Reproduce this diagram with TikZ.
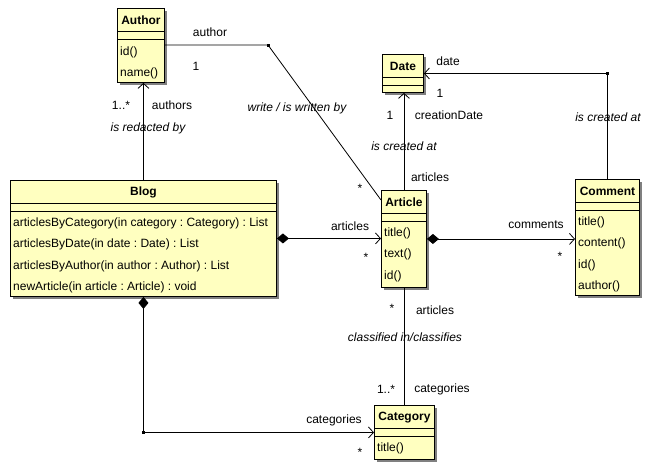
\documentclass[tikz,border=0pt]{standalone}
\usepackage{fontspec}
\setmainfont{Liberation Sans}
\usetikzlibrary{arrows.meta, calc, shadows, positioning}
\definecolor{classfill}{RGB}{255,255,192}
\tikzstyle{umlclass} = [rectangle, draw=black, line width=0.9pt, fill=classfill, inner sep=0pt, anchor=north west, drop shadow={shadow xshift=3pt, shadow yshift=-3pt, fill=black!50, opacity=1}]
\tikzstyle{classname} = [font=\fontsize{12}{14}\selectfont\bfseries, inner sep=0pt]
\tikzstyle{method} = [font=\fontsize{12}{14}\selectfont, anchor=west, inner sep=0pt]
\tikzstyle{role} = [font=\fontsize{12}{14}\selectfont, inner sep=0pt]
\tikzstyle{assocname} = [font=\fontsize{12}{14}\selectfont\itshape, inner sep=0pt]
\tikzstyle{assoc} = [line width=0.8pt]
\tikzstyle{nav} = [assoc, -{Straight Barb[length=5pt,width=11pt]}]
\tikzstyle{comp} = [assoc, {Diamond[length=12pt,width=10pt]}-{Straight Barb[length=5pt,width=11pt]}]
\tikzstyle{bendpoint} = [rectangle, fill=black, inner sep=0pt, minimum size=3pt]

% class box: name, x, y, width, height, title
\newcommand{\umlclass}[6]{%
  \node (#1) [umlclass, minimum width=#4pt, minimum height=#5pt] at (#2,#3) {};
  \node (#1-name) [classname] at ([yshift=-12.5pt]#1.north) {#6};
  \draw[line width=0.9pt] ([yshift=-23pt]#1.north west) -- ([yshift=-23pt]#1.north east);
  \draw[line width=0.9pt] ([yshift=-31pt]#1.north west) -- ([yshift=-31pt]#1.north east);
}

\begin{document}
\frenchspacing
\begin{tikzpicture}[x=1pt, y=-1pt]
\useasboundingbox (0,0) rectangle (655,475);

% classes
\umlclass{author}{117}{8}{47}{74}{Author}
\umlclass{blog}{10}{180}{266}{116}{Blog}
\umlclass{date}{382}{54}{41}{38}{Date}
\umlclass{article}{381}{190}{45}{97}{Article}
\umlclass{comment}{575}{179}{64}{116}{Comment}
\umlclass{category}{374}{405}{60}{54}{Category}

\foreach \m [count=\i] in {id(), name()}
  \node (author-m\i) [method] at ([xshift=3pt, yshift={(-44.5-20.5*(\i-1))*1pt}]author.north west) {\m};
\foreach \m [count=\i] in {articlesByCategory(in category : Category) : List, articlesByDate(in date : Date) : List, articlesByAuthor(in author : Author) : List, newArticle(in article : Article) : void}
  \node (blog-m\i) [method] at ([xshift=3pt, yshift={(-43.5-21.3*(\i-1))*1pt}]blog.north west) {\m};
\foreach \m [count=\i] in {title(), text(), id()}
  \node (article-m\i) [method] at ([xshift=3pt, yshift={(-43.5-21.3*(\i-1))*1pt}]article.north west) {\m};
\foreach \m [count=\i] in {title(), content(), id(), author()}
  \node (comment-m\i) [method] at ([xshift=3pt, yshift={(-43.5-21.3*(\i-1))*1pt}]comment.north west) {\m};
\foreach \m [count=\i] in {title()}
  \node (category-m\i) [method] at ([xshift=3pt, yshift={(-43.5-21.3*(\i-1))*1pt}]category.north west) {\m};

% bends
\node (authorbend) [bendpoint] at (268,45) {};
\node (datebend) [bendpoint] at (comment.north |- date.east) {};
\node (catbend) [bendpoint] at (blog.south |- category.west) {};

% connectors
\draw [nav] (blog.north) -- (blog.north |- author.south);
\draw [assoc] (author.east |- authorbend) -- (authorbend.center) -- ([yshift=-10pt]article.north west);
\draw [nav] (article.north) -- (article.north |- date.south);
\draw [nav] (comment.north) -- (datebend.center) -- (date.east);
\draw [comp] (blog.east) -- (blog.east -| article.west);
\draw [comp] (article.east) -- (article.east -| comment.west);
\draw [assoc] (article.south) -- (article.south |- category.north);
\draw [assoc, {Diamond[length=12pt,width=10pt]}-] (blog.south) -- (catbend.center);
\draw [nav] (catbend.center) -- (category.west);

% labels
\node (l-authors-mult) [role] at (121,105) {1..*};
\node (l-authors) [role] at (172,105) {authors};
\node (l-redacted) [assocname] at (148,128) {is redacted by};
\node (l-author) [role] at (210,32) {author};
\node (l-author-mult) [role] at (196,66) {1};
\node (l-write) [assocname] at (297,108) {write / is written by};
\node (l-write-mult) [role] at (360,188) {*};
\node (l-creation-mult) [role] at (390,115) {1};
\node (l-creation) [role] at (449,115) {creationDate};
\node (l-article-created) [assocname] at (404,146) {is created at};
\node (l-articles-date) [role] at (430,177) {articles};
\node (l-date) [role] at (448,61) {date};
\node (l-date-mult) [role] at (440,93) {1};
\node (l-comment-created) [assocname] at (608,117) {is created at};
\node (l-articles) [role] at (350,226) {articles};
\node (l-articles-mult) [role] at (366,257) {*};
\node (l-comments) [role] at (536,225) {comments};
\node (l-comments-mult) [role] at (560,256) {*};
\node (l-cat-articles-mult) [role] at (392,308) {*};
\node (l-cat-articles) [role] at (435,310) {articles};
\node (l-classified) [assocname] at (405,337) {classified in/classifies};
\node (l-categories-mult) [role] at (386,389) {1..*};
\node (l-categories) [role] at (442,389) {categories};
\node (l-blog-categories) [role] at (334,420) {categories};
\node (l-blog-categories-mult) [role] at (360,452) {*};
\end{tikzpicture}
\end{document}
